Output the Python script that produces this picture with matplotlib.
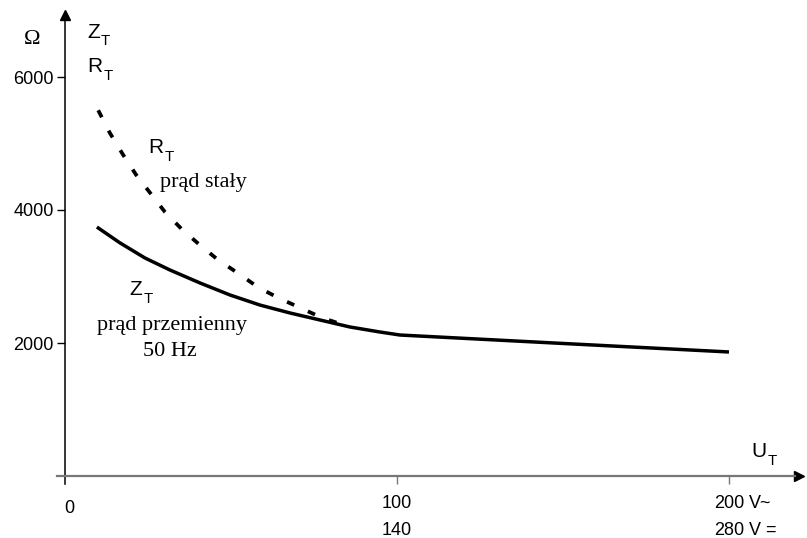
import matplotlib
matplotlib.use("Agg")
import matplotlib.pyplot as plt
import numpy as np

plt.rcParams['font.family'] = ['Liberation Sans', 'DejaVu Sans']

# Z_T - alternating current 50 Hz (solid)
u_ac = [9.6, 16.6, 24.1, 31.6, 40.7, 49.7, 58.7, 67.8, 76.8, 85.8, 94.9, 100.9, 150, 200]
z_t = [3744, 3504, 3278, 3098, 2902, 2722, 2571, 2451, 2346, 2241, 2165, 2120, 1993, 1865]

# R_T - direct current (dashed)
u_dc = [10, 13.5, 17.5, 21.4, 25.6, 30.1, 35.2, 40.7, 46.1, 52.1, 58.1, 64.2, 70.8, 77.4, 84]
r_t = [5500, 5160, 4830, 4530, 4260, 3970, 3710, 3470, 3250, 3050, 2840, 2680, 2530, 2380, 2270]

y_ticks = [2000, 4000, 6000]
y_labels = ['2000', '4000', '6000']
x_ticks = [100, 200]
x_labels_ac = ['100', '200']
x_labels_dc = ['140', '280']

fig = plt.figure(figsize=(8.07, 5.38), dpi=100)
ax = fig.add_axes([0, 0, 1, 1])
# pixel mapping: x=0 at 65px, 3.32 px/unit; y=0 at 476px, 0.0665 px/unit
ax.set_xlim(-65 / 3.32, (807 - 65) / 3.32)
ax.set_ylim(-(538 - 476) / 0.0665, 476 / 0.0665)

for s in ['top', 'right']:
    ax.spines[s].set_visible(False)
ax.spines['left'].set_position(('data', 0))
ax.spines['bottom'].set_position(('data', 0))
ax.spines['left'].set_bounds(-120, 6900)
ax.spines['bottom'].set_bounds(-2.5, 220)
ax.spines['left'].set_linewidth(1.1)
ax.spines['bottom'].set_linewidth(1.6)
ax.spines['bottom'].set_color('#777777')
ax.plot(0, 6930, marker='^', color='black', markersize=7, clip_on=False)
ax.plot(221, 0, marker='>', color='black', markersize=7, clip_on=False)

ax.set_yticks(y_ticks)
ax.set_yticklabels(y_labels, fontsize=13)
ax.tick_params(axis='y', direction='out', length=6, width=1, pad=2)
ax.set_xticks(x_ticks)
ax.set_xticklabels([])
ax.tick_params(axis='x', direction='out', length=6, width=1, color='#777777')

# x labels (two scales)
ax.text(1.2, -496, '0', fontsize=13, ha='center', va='center')
for xt, la, ld in zip(x_ticks, x_labels_ac, x_labels_dc):
    ax.text(xt, -420, la, fontsize=13, ha='center', va='center')
    ax.text(xt, -820, ld, fontsize=13, ha='center', va='center')
ax.text(206, -420, 'V~', fontsize=13, ha='left', va='center')
ax.text(206, -820, 'V =', fontsize=13, ha='left', va='center')

ax.plot(u_ac, z_t, color='black', lw=2.5, solid_capstyle='butt', solid_joinstyle='round')
ax.plot(u_dc, r_t, color='black', lw=2.7, dashes=(2.1, 4.0))

renderer = fig.canvas.get_renderer()


def sub_label(x, y, main, sub, size=15):
    t = ax.text(x, y, main, fontsize=size, ha='left', va='baseline')
    w = t.get_window_extent(renderer=renderer).width * 72 / fig.dpi
    ax.annotate(sub, xy=(x, y), xytext=(w + 0.8, -5.5), textcoords='offset points',
                fontsize=size * 0.72, ha='left', va='baseline')


serif = 'Liberation Serif'
ax.text(-9.9, 6570, 'Ω', fontsize=16, family=serif, ha='center', va='center')
sub_label(6.6, 6590, 'Z', 'T')
sub_label(6.6, 6075, 'R', 'T')
sub_label(25, 4857, 'R', 'T')
ax.text(28.6, 4346, 'prąd stały', fontsize=16, family=serif, ha='left', va='baseline')
sub_label(19.4, 2722, 'Z', 'T')
ax.text(9.6, 2195, 'prąd przemienny', fontsize=16, family=serif, ha='left', va='baseline')
ax.text(23.5, 1805, '50 Hz', fontsize=16, family=serif, ha='left', va='baseline')
sub_label(206.6, 286, 'U', 'T')

fig.savefig('out.png', dpi=100)
